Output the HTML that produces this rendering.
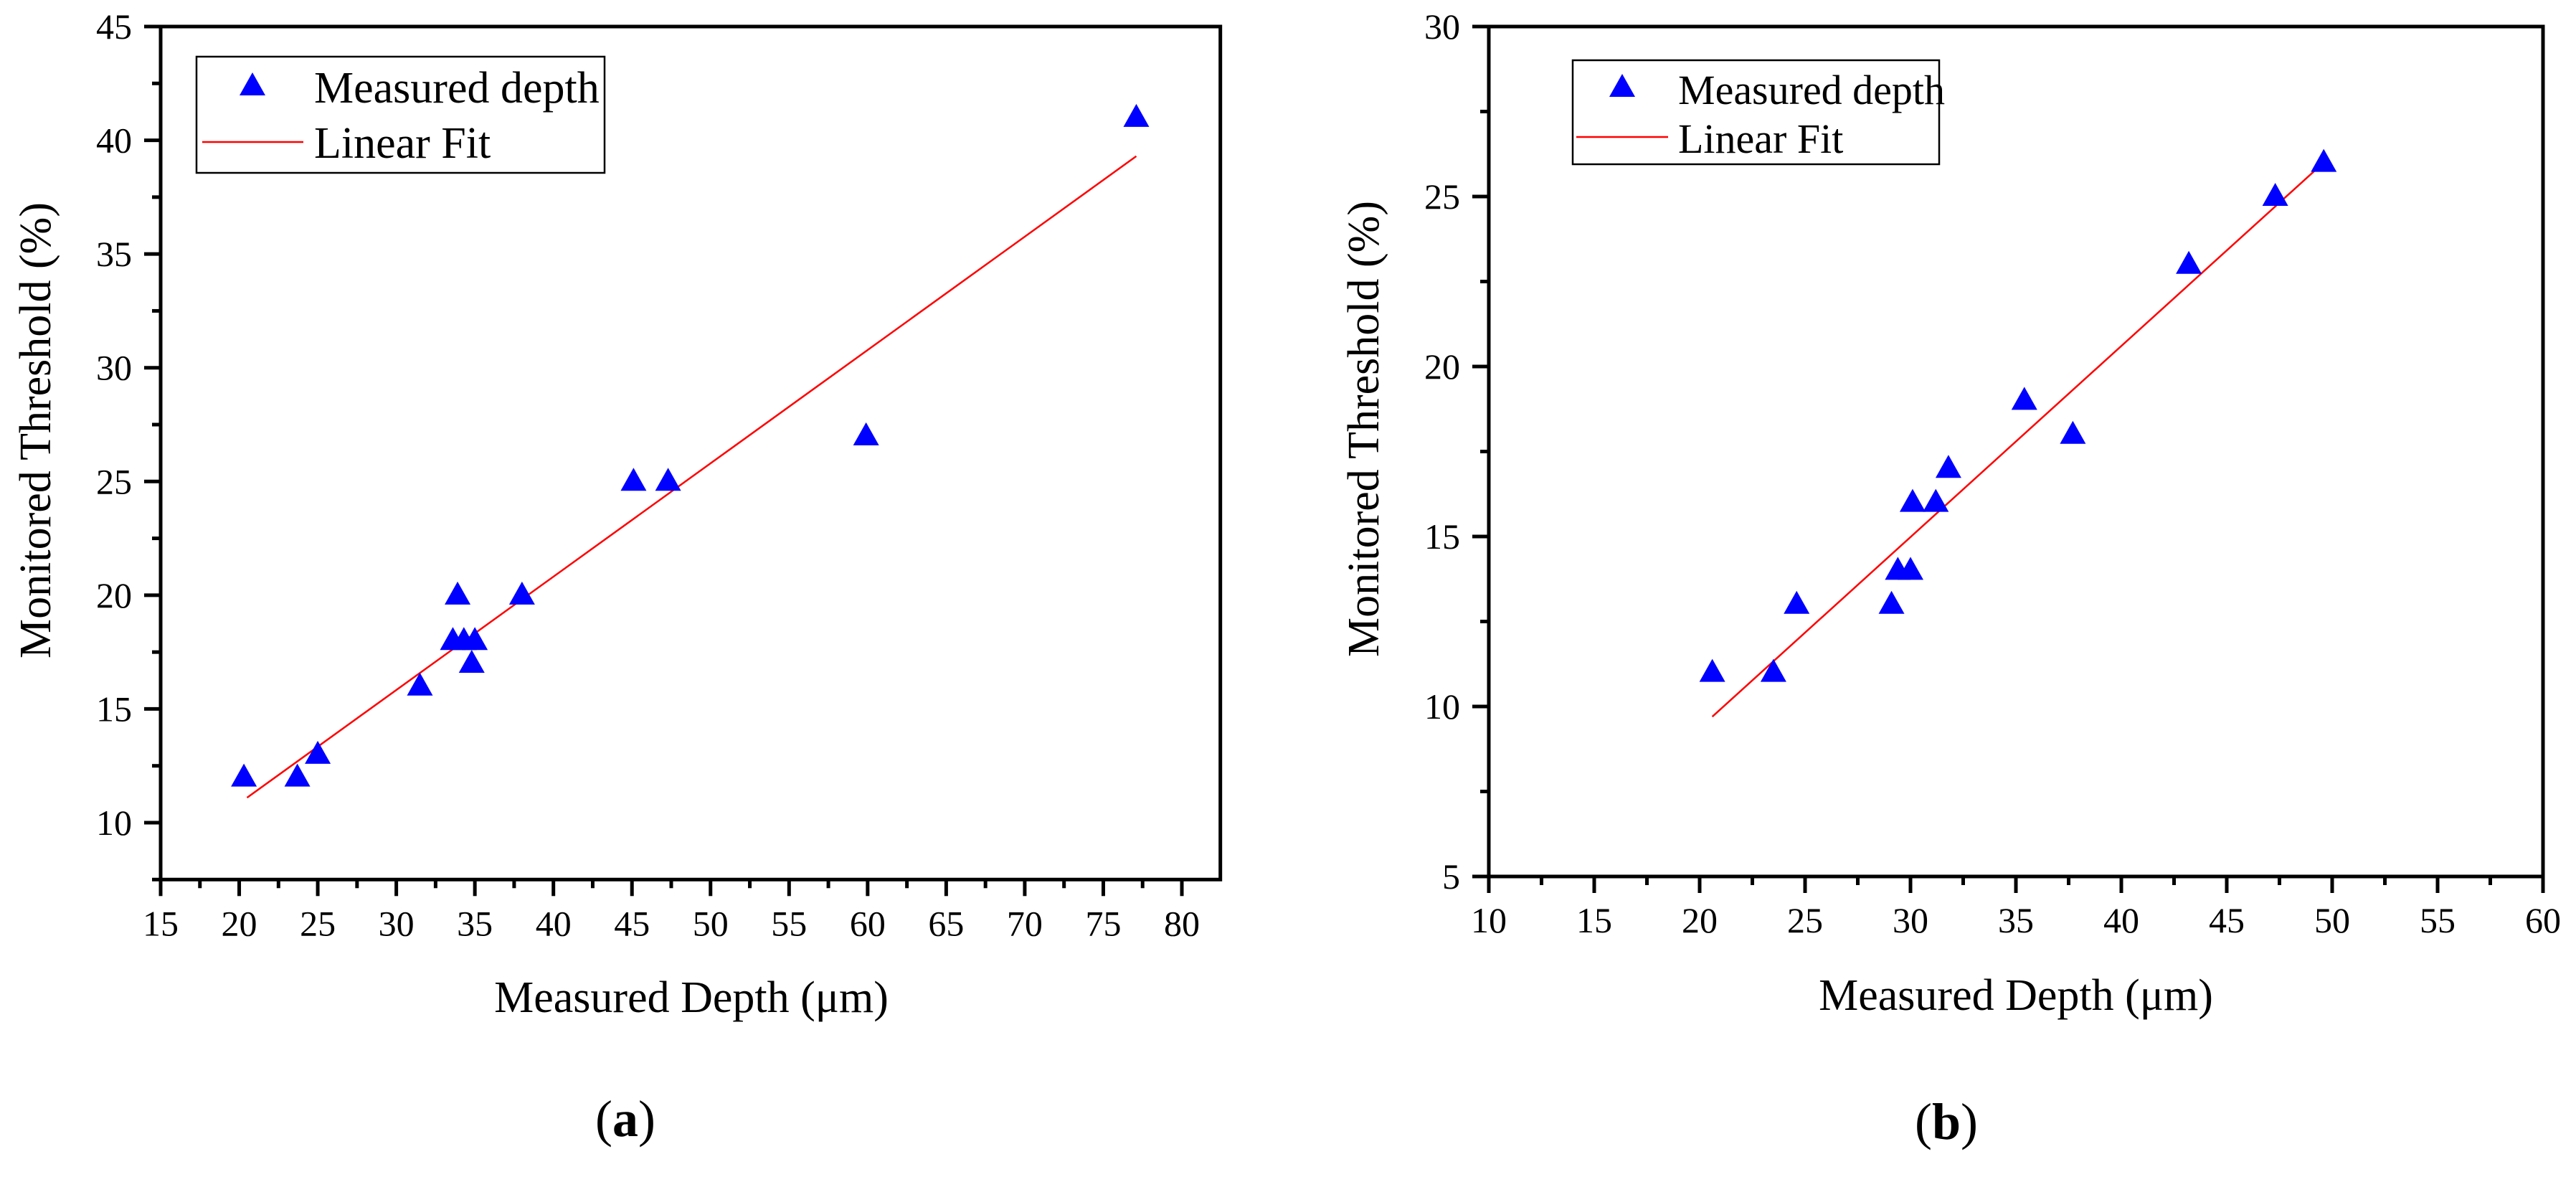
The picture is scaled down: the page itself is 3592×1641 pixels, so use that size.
<!DOCTYPE html>
<html><head><meta charset="utf-8"><style>
body{margin:0;background:#fff}
svg{display:block;font-family:"Liberation Serif","DejaVu Serif",serif}
svg text{font-family:"Liberation Serif","DejaVu Serif",serif}
</style></head><body>
<svg id="chart" width="3592" height="1641" font-family="Liberation Serif, DejaVu Serif, serif" xmlns="http://www.w3.org/2000/svg"></svg>
<script>
const aDepth=[20.3,23.7,25,31.5,33.6,33.9,34.3,34.8,35,38,45.1,47.3,59.9,77.1];
const aThresh=[12,12,13,16,18,20,18,17,18,20,25,25,27,41];
const aFitX=[20.5,77.1];
const aFitY=[11.1,39.3];
const aXTicks=[15,20,25,30,35,40,45,50,55,60,65,70,75,80];
const aYTicks=[10,15,20,25,30,35,40,45];
const bDepth=[20.6,23.5,24.6,29.1,29.4,30,30.1,31.2,31.8,35.4,37.7,43.2,47.3,49.6];
const bThresh=[11,11,13,13,14,14,16,16,17,19,18,23,25,26];
const bFitX=[20.6,49.6];
const bFitY=[9.7,26];
const bXTicks=[10,15,20,25,30,35,40,45,50,55,60];
const bYTicks=[5,10,15,20,25,30];
const NS="http://www.w3.org/2000/svg";
const FONT='"Liberation Serif", "DejaVu Serif", serif';
const svg=document.getElementById('chart');
function mk(tag,attrs,parent,text){const e=document.createElementNS(NS,tag);for(const k in attrs)e.setAttribute(k,attrs[k]);if(tag==='text')e.setAttribute('font-family',FONT);if(text!==undefined)e.textContent=text;(parent||svg).appendChild(e);return e;}
function panel(cfg){
  const g=mk('g',{});
  
  
  const X=v=>cfg.px0+(v-cfg.x0)/(cfg.x1-cfg.x0)*(cfg.px1-cfg.px0);
  const Y=v=>cfg.py0+(v-cfg.y0)/(cfg.y1-cfg.y0)*(cfg.py1-cfg.py0);
  const L=X(cfg.xmin),R=X(cfg.xmax),T=Y(cfg.ymax),B=Y(cfg.ymin);
  const frame=mk('rect',{x:L,y:T,width:R-L,height:B-T,fill:'none',stroke:'#000','stroke-width':5},g);
  
  
  for(let v=cfg.xmin;v<=cfg.xmax+1e-6;v+=2.5){
    const major=Math.abs(v/5-Math.round(v/5))<1e-6;
    mk('line',{x1:X(v),x2:X(v),y1:B,y2:B+(major?23:12),stroke:'#000','stroke-width':5},g);
  }
  cfg.xt.forEach(v=>{const t=mk('text',{x:X(v),y:B+78,'font-size':50,'text-anchor':'middle'},g,v);
    });
  for(let v=cfg.ymin;v<=cfg.ymax+1e-6;v+=2.5){
    const major=Math.abs(v/5-Math.round(v/5))<1e-6;
    mk('line',{x1:L,x2:L-(major?23:12),y1:Y(v),y2:Y(v),stroke:'#000','stroke-width':5},g);
  }
  cfg.yt.forEach(v=>{const t=mk('text',{x:L-40,y:Y(v)+17,'font-size':50,'text-anchor':'end'},g,v);
    });
  const xt=mk('text',{x:cfg.xtx,y:cfg.xty,'font-size':62,'text-anchor':'middle'},g,'Measured Depth (μm)');
  
  const yt=mk('text',{x:0,y:0,'font-size':62,'text-anchor':'middle',transform:`translate(${cfg.ytx},${cfg.yty}) rotate(-90)`},g,'Monitored Threshold (%)');
  
  const fit=mk('line',{x1:X(cfg.fx[0]),y1:Y(cfg.fy[0]),x2:X(cfg.fx[1]),y2:Y(cfg.fy[1]),stroke:'#f00','stroke-width':2.5},g);
  
  const tri=(cx,cy)=>`${cx},${cy-19} ${cx-18},${cy+13} ${cx+18},${cy+13}`;
  cfg.dx.forEach((v,i)=>{const p=mk('polygon',{points:tri(X(v),Y(cfg.dy[i])),fill:'#0000ff'},g);
    });
  const lg=mk('g',{},g);
  
  const l=cfg.lg;
  mk('rect',{x:l.x,y:l.y,width:l.w,height:l.h,fill:'#fff',stroke:'#000','stroke-width':2.5},lg);
  const m=mk('polygon',{points:tri(l.mx,l.my),fill:'#0000ff'},lg);
  
  const t1=mk('text',{x:l.tx,y:l.b1,'font-size':l.fs},lg,'Measured depth');
  
  const ln=mk('line',{x1:l.lx1,x2:l.lx2,y1:l.ly,y2:l.ly,stroke:'#f00','stroke-width':2.5},lg);
  
  const t2=mk('text',{x:l.tx,y:l.b2,'font-size':l.fs},lg,'Linear Fit');
  
  const pl=mk('text',{x:cfg.plx,y:cfg.ply,'font-size':72,'text-anchor':'middle'},g);
  
  mk('tspan',{},pl,'(');mk('tspan',{'font-weight':'bold'},pl,cfg.pl);mk('tspan',{},pl,')');
}
panel({name:'chart-a',x0:15,x1:80,px0:224,px1:1648,y0:45,y1:10,py0:37,py1:1147,
  xmin:15,xmax:82.45,ymin:7.5,ymax:45,xt:aXTicks,yt:aYTicks,dx:aDepth,dy:aThresh,fx:aFitX,fy:aFitY,
  xtx:964,xty:1411,ytx:70,yty:600,plx:872,ply:1584,pl:'a',
  lg:{x:274,y:79,w:569,h:162,mx:352,my:120,tx:438,b1:143,b2:220,lx1:282,lx2:423,ly:198,fs:62}});
panel({name:'chart-b',x0:10,x1:60,px0:2076,px1:3546,y0:30,y1:5,py0:37,py1:1222,
  xmin:10,xmax:60,ymin:5,ymax:30,xt:bXTicks,yt:bYTicks,dx:bDepth,dy:bThresh,fx:bFitX,fy:bFitY,
  xtx:2811,xty:1408,ytx:1922,yty:598,plx:2714,ply:1588,pl:'b',
  lg:{x:2193,y:84,w:511,h:145,mx:2262,my:122,tx:2340,b1:145,b2:213,lx1:2198,lx2:2326,ly:191,fs:58}});
</script>
</body></html>
